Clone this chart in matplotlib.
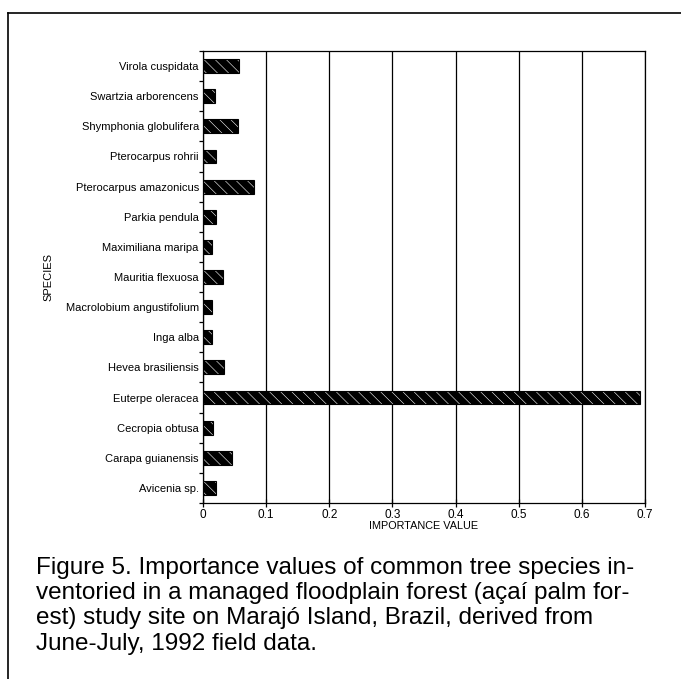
import numpy as np
import matplotlib.pyplot as plt
from matplotlib.lines import Line2D

# Data, bottom to top
species = ['Avicenia sp.', 'Carapa guianensis', 'Cecropia obtusa', 'Euterpe oleracea',
           'Hevea brasiliensis', 'Inga alba', 'Macrolobium angustifolium',
           'Mauritia flexuosa', 'Maximiliana maripa', 'Parkia pendula',
           'Pterocarpus amazonicus', 'Pterocarpus rohrii', 'Shymphonia globulifera',
           'Swartzia arborencens', 'Virola cuspidata']
importance = [0.020, 0.046, 0.016, 0.692, 0.034, 0.014, 0.015, 0.032, 0.014, 0.021,
              0.080, 0.021, 0.055, 0.019, 0.057]
xticks = [0, 0.1, 0.2, 0.3, 0.4, 0.5, 0.6, 0.7]
xticklabels = ['0', '0.1', '0.2', '0.3', '0.4', '0.5', '0.6', '0.7']

caption = ("Figure 5. Importance values of common tree species in-\n"
           "ventoried in a managed floodplain forest (açaí palm for-\n"
           "est) study site on Marajó Island, Brazil, derived from\n"
           "June-July, 1992 field data.")

plt.rcParams['font.family'] = ['Liberation Sans', 'DejaVu Sans']
plt.rcParams['hatch.linewidth'] = 0.4

W, H = 681, 679
fig = plt.figure(figsize=(W / 100, H / 100), dpi=100)
# axes box in pixels: left 203, right 645, top 51, bottom 503
ax = fig.add_axes([203 / W, 1 - 503 / H, (645 - 203) / W, (503 - 51) / H])

y = np.arange(len(species))
# black bars with sparse white hatching
ax.barh(y, importance, height=0.46, color='black', edgecolor='white',
        hatch='\\\\\\', linewidth=0, zorder=3)
ax.barh(y, importance, height=0.46, fill=False, edgecolor='black',
        linewidth=0.8, zorder=4)

ax.set_xlim(0, 0.7)
ax.set_ylim(-0.5, len(species) - 0.5)
ax.set_xticks(xticks)
ax.set_xticklabels(xticklabels, fontsize=8.5)
ax.xaxis.grid(True, color='black', linewidth=0.9)
ax.set_axisbelow(True)
ax.tick_params(axis='x', direction='inout', length=6, width=0.9, pad=1)

ax.set_yticks(y)
ax.set_yticklabels(species, fontsize=8)
ax.tick_params(axis='y', length=0, pad=3)
ax.set_yticks(np.arange(len(species) + 1) - 0.5, minor=True)
ax.tick_params(axis='y', which='minor', direction='out', length=3, width=0.9)

for s in ax.spines.values():
    s.set_linewidth(0.9)

ax.set_xlabel('IMPORTANCE VALUE', fontsize=7.8, labelpad=0)
ax.set_ylabel('SPECIES', fontsize=8)
ax.yaxis.set_label_coords(-150 / (645 - 203), 0.5)

# caption
fig.text(36 / W, 1 - 557 / H, caption, fontsize=17.5, va='top', ha='left',
         linespacing=1.19)

# page frame lines
fig.add_artist(Line2D([8 / W, 1.0], [1 - 13 / H, 1 - 13 / H], color='black',
                      linewidth=1.2, transform=fig.transFigure))
fig.add_artist(Line2D([8 / W, 8 / W], [1 - 13 / H, 0.0], color='black',
                      linewidth=1.2, transform=fig.transFigure))

fig.savefig('out.png', dpi=100)
